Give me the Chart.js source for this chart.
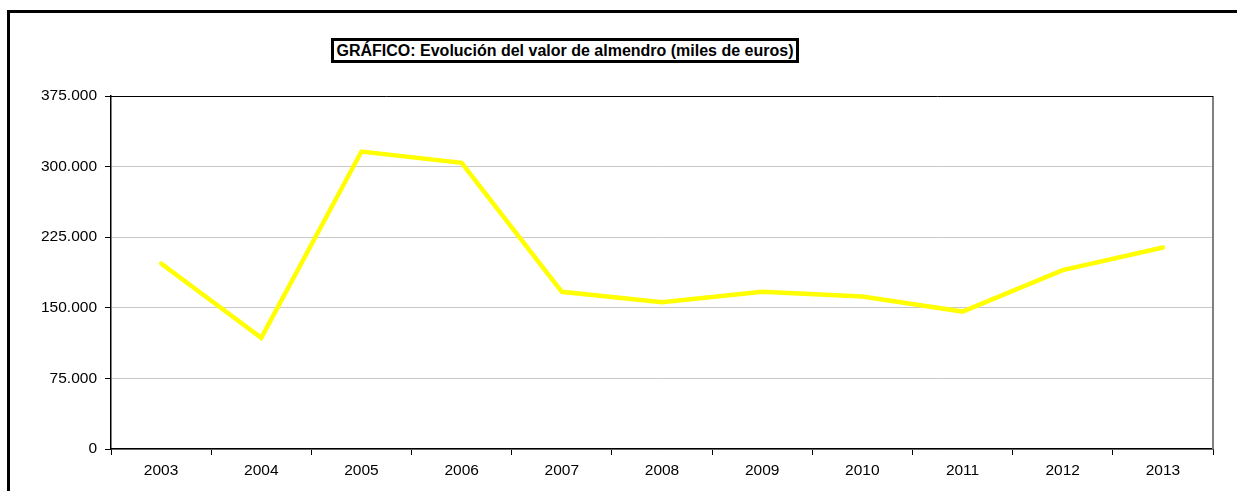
<!DOCTYPE html>
<html>
<head>
<meta charset="utf-8">
<script src="https://cdn.jsdelivr.net/npm/chart.js@4/dist/chart.umd.min.js"></script>
<style>
  html, body { margin: 0; padding: 0; background: #fff; overflow: hidden; }
  #frame { position: absolute; left: 7px; top: 10px; width: 1400px; height: 700px; border: 3px solid #000; box-sizing: border-box; }
  #wrap { position: absolute; left: 0; top: 0; width: 1237px; height: 491px; }
  #title { position: absolute; left: 331px; top: 38px; width: 468px; height: 25px; box-sizing: border-box;
           border: 3px solid #000; font-family: "Liberation Sans", Arial, sans-serif; font-weight: bold;
           font-size: 16px; line-height: 19px; text-align: center; color: #000; background: #fff; white-space: nowrap; }
</style>
</head>
<body>
<div id="frame"></div>
<div id="wrap"><canvas id="c" width="1237" height="491"></canvas></div>
<div id="title">GRÁFICO: Evolución del valor de almendro (miles de euros)</div>
<script>
const years = ['2003','2004','2005','2006','2007','2008','2009','2010','2011','2012','2013'];
const valores = [197000, 118000, 316000, 304000, 167000, 156000, 167000, 162000, 146000, 190000, 214000];
const yMin = 0, yMax = 375000, yStep = 75000;

function fmt(v) {
  return String(Math.round(v)).replace(/\B(?=(\d{3})+(?!\d))/g, '.');
}

const borderPlugin = {
  id: 'plotBorder',
  afterDatasetsDraw(chart) {
    const a = chart.chartArea, c = chart.ctx;
    c.save();
    c.strokeStyle = '#808080';
    c.lineWidth = 2;
    c.beginPath();
    c.moveTo(a.right, a.top);
    c.lineTo(a.right, a.bottom);
    c.stroke();
    c.strokeStyle = '#000';
    c.lineWidth = 1;
    c.beginPath();
    c.moveTo(a.left, a.top + 0.5);
    c.lineTo(a.right, a.top + 0.5);
    c.stroke();
    c.restore();
  }
};

const font = { family: '"Liberation Sans", Arial, sans-serif', size: 15.5 };

new Chart(document.getElementById('c'), {
  type: 'line',
  data: {
    labels: years,
    datasets: [{
      data: valores,
      borderColor: '#FFFF00',
      borderWidth: 4.5,
      borderCapStyle: 'round',
      borderJoinStyle: 'miter',
      pointRadius: 0,
      tension: 0,
      fill: false
    }]
  },
  options: {
    responsive: false,
    animation: false,
    layout: { padding: { top: 96, right: 24, left: 0, bottom: 0 } },
    plugins: { legend: { display: false }, title: { display: false }, tooltip: { enabled: false } },
    scales: {
      x: {
        offset: true,
        grid: { offset: true, drawOnChartArea: false, drawTicks: true, tickLength: 6, tickColor: '#000', tickWidth: 1 },
        border: { display: true, color: '#000', width: 1.5 },
        ticks: { color: '#000', font: font, padding: 6, maxRotation: 0, autoSkip: false },
        afterFit(s) { s.height = 42; }
      },
      y: {
        min: yMin, max: yMax,
        grid: {
          color: (ctx) => '#c8c8c8',
          lineWidth: 1,
          tickLength: 6, tickColor: '#000', tickWidth: 1
        },
        border: { display: true, color: '#000', width: 1.5 },
        ticks: { stepSize: yStep, color: '#000', font: font, padding: 8, callback: (v) => fmt(v) },
        afterFit(s) { s.width = 111; }
      }
    }
  },
  plugins: [borderPlugin]
});
</script>
</body>
</html>
